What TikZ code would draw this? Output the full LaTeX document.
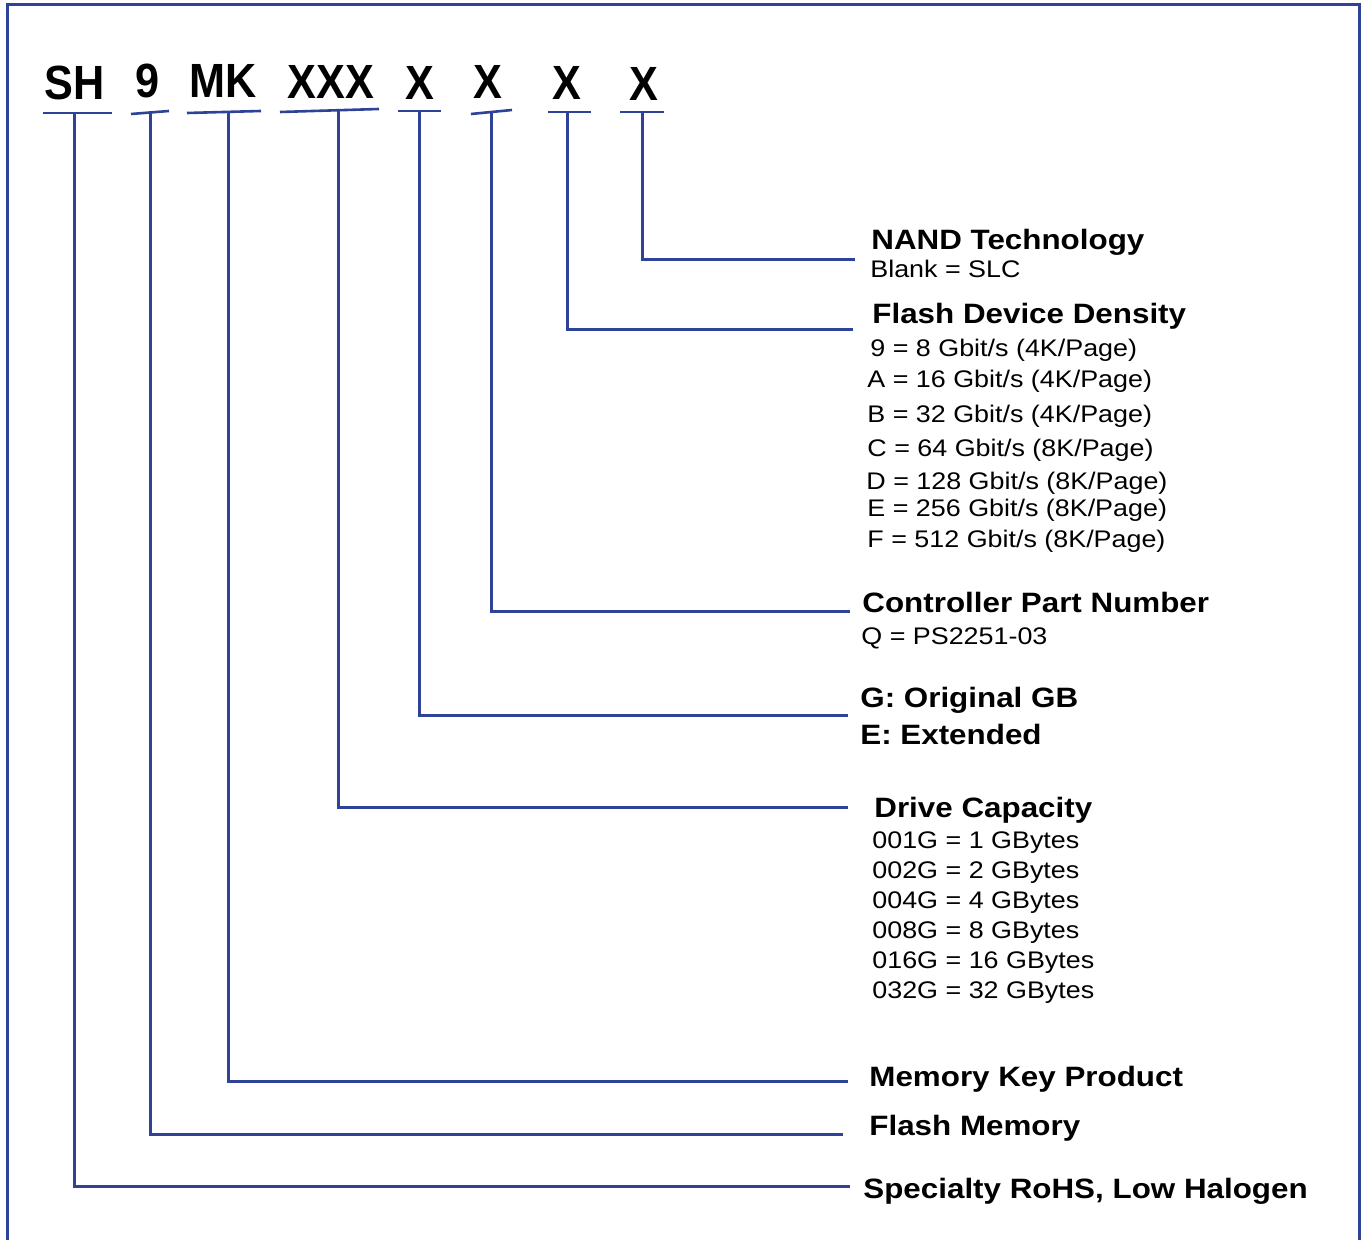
\documentclass[tikz,border=0pt]{standalone}
\usepackage{fontspec}
\setmainfont{Liberation Sans}[FakeStretch=1.12]
\newfontfamily\codefont{Liberation Sans}[FakeStretch=0.9]
\definecolor{frameblue}{RGB}{46,66,152}
\begin{document}
\begin{tikzpicture}[x=0.5pt, y=-0.5pt, every node/.style={inner sep=0pt},
  codechar/.style={font=\codefont\bfseries\fontsize{24}{28}\selectfont, anchor=base},
  head/.style={font=\bfseries\fontsize{14}{16}\selectfont, anchor=base west},
  entry/.style={font=\fontsize{12}{14}\selectfont, anchor=base west},
  under/.style={draw=frameblue, line width=1.3pt},
  link/.style={draw=frameblue, line width=1.5pt}]
\useasboundingbox (0,0) rectangle (1362,1240);
% frame, open at the bottom
\draw[link] (7,1240) -- (7,5) -- (1359,5) -- (1359,1240);
% part number fields
\node[codechar] (sh)   at (75,100)  {SH};
\node[codechar] (nine) at (148,98)  {9};
\node[codechar] (mk)   at (223,98)  {MK};
\node[codechar] (xxx)  at (331,99)  {XXX};
\node[codechar] (xa)   at (420,100) {X};
\node[codechar] (xb)   at (488,99)  {X};
\node[codechar] (xc)   at (567,100) {X};
\node[codechar] (xd)   at (644,101) {X};
\foreach \xa/\ya/\xb/\yb in {43/113/112/113, 131/114/169/111, 187/113/261/111, 280/112/379/109,
  398/111/441/111, 471/114/512/110, 548/112/591/112, 620/112/664/112}
  \draw[under] (\xa,\ya) -- (\xb,\yb);
% field tops and line ends
\foreach \n/\x/\y in {1/74/113, 2/150/113, 3/228/112, 4/338/111, 5/419/111, 6/491/112, 7/567/112, 8/642/112}
  \coordinate (f\n) at (\x,\y);
\foreach \n/\x/\y in {1/850/1187, 2/843/1135, 3/848/1082, 4/848/808, 5/848/716, 6/850/612, 7/853/330, 8/855/260}
  \coordinate (e\n) at (\x,\y);
% labels
\node[head] (nand) at (871,250) {NAND Technology};
\node[entry] (slc) at (870,278) {Blank = SLC};
\node[head] (density) at (872,324) {Flash Device Density};
\foreach \x/\y/\d/\p in {870/357/9 = 8/4, 867/388/A = 16/4, 867/423/B = 32/4, 867/457/C = 64/8,
  866/490/D = 128/8, 867/517/E = 256/8, 867/548/F = 512/8}
  \node[entry] at (\x,\y) {\d\ Gbit/s (\p K/Page)};
\node[head] (ctrl) at (862,613) {Controller Part Number};
\node[entry] (ps) at (861,645) {Q = PS2251-03};
\node[head] (orig) at (860,708) {G: Original GB};
\node[head] (ext) at (860,745) {E: Extended};
\node[head] (cap) at (874,818) {Drive Capacity};
\foreach \y/\c/\n in {849/001/1, 879/002/2, 909/004/4, 939/008/8, 969/016/16, 999/032/32}
  \node[entry] (cap\c) at (872,\y) {\c G = \n\ GBytes};
\node[head] (key) at (869,1087) {Memory Key Product};
\node[head] (flash) at (869,1136) {Flash Memory};
\node[head] (rohs) at (863,1198) {Specialty RoHS, Low Halogen};
% connectors
\foreach \n in {1,...,8}
  \draw[link] (f\n) |- (e\n);
\end{tikzpicture}
\end{document}
